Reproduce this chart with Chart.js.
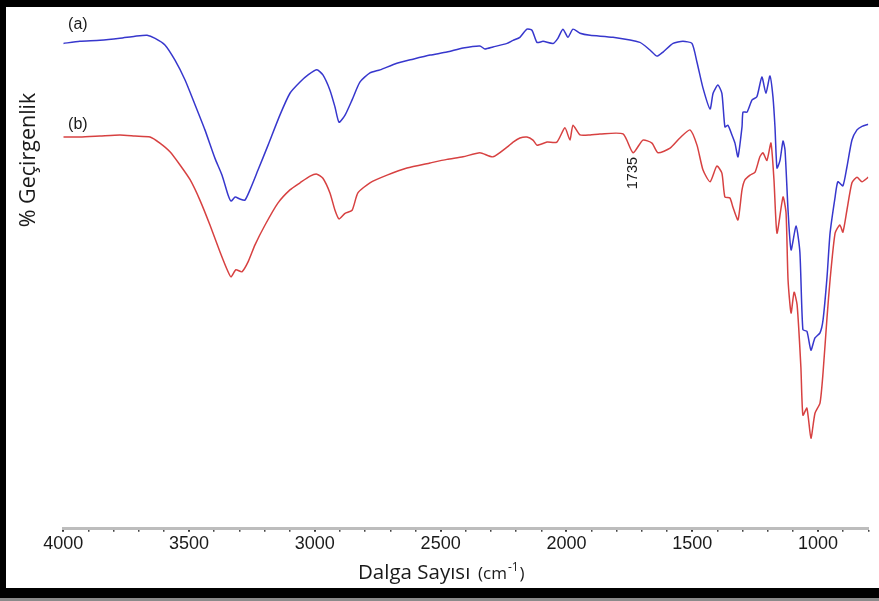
<!DOCTYPE html>
<html>
<head>
<meta charset="utf-8">
<script src="https://cdn.jsdelivr.net/npm/chart.js@4"></script>
<style>
  html, body { margin: 0; padding: 0; background: #fff; }
  #wrap { width: 879px; height: 601px; position: relative; }
</style>
</head>
<body>
<div id="wrap"><canvas id="c" width="879" height="601"></canvas></div>
<script>
// ---- Data (wavenumber in cm^-1, relative transmittance in %) ----
const waveA = [4000,3934,3854,3775,3715,3667,3635,3596,3556,3516,3476,3437,3397,3369,3345,3333,3317,3298,3278,3258,3226,3186,3139,3099,3059,3027,2992,2968,2940,2920,2904,2880,2852,2821,2781,2741,2674,2610,2542,2475,2411,2344,2324,2292,2236,2212,2185,2157,2137,2117,2093,2053,2034,2014,1994,1974,1946,1906,1815,1708,1668,1640,1616,1576,1537,1501,1481,1457,1429,1417,1398,1382,1370,1358,1342,1330,1318,1302,1298,1282,1262,1243,1223,1207,1191,1179,1171,1163,1151,1139,1131,1119,1107,1087,1072,1060,1044,1028,1012,992,980,964,952,932,921,901,885,865,845,825,800];
const transA = [95.4,95.8,96.0,96.4,96.8,97.0,96.4,95.1,92.1,88.2,83.3,78.4,72.8,69.5,65.6,64.4,65.2,64.8,64.6,66.6,70.5,75.4,81.3,85.6,87.8,89.2,90.2,89.2,86.2,82.9,79.9,81.3,84.3,87.8,89.6,90.2,91.5,92.3,93.1,93.7,94.5,94.9,94.3,94.7,95.4,96.0,96.6,98.2,98.0,95.6,95.8,95.4,96.4,98.2,96.6,98.2,97.4,97.0,96.6,95.6,94.1,92.9,93.7,95.4,95.8,95.4,91.7,86.6,82.5,85.6,87.2,85.6,79.0,79.3,77.4,75.8,73.1,79.0,81.9,81.9,84.3,84.9,88.8,85.6,89.0,84.9,79.0,70.9,72.4,76.2,74.4,62.6,54.8,59.5,54.4,39.1,38.8,35.1,37.5,38.5,41.0,49.5,58.1,65.2,68.2,67.4,71.1,76.4,78.4,79.1,79.5];

const waveB = [4000,3934,3854,3775,3715,3655,3616,3576,3536,3496,3457,3417,3377,3345,3333,3314,3290,3266,3238,3198,3147,3099,3059,3019,2992,2968,2940,2920,2904,2880,2852,2829,2781,2713,2634,2542,2475,2411,2344,2292,2236,2212,2185,2157,2133,2117,2077,2038,2006,1986,1974,1946,1906,1867,1775,1735,1696,1660,1636,1588,1549,1509,1481,1457,1429,1402,1382,1370,1350,1338,1318,1302,1290,1270,1250,1231,1219,1203,1187,1175,1163,1139,1127,1119,1107,1095,1083,1068,1060,1044,1028,1012,992,980,964,952,932,913,901,885,865,845,825,800];
const transB = [77.0,77.0,77.2,77.4,77.2,77.0,75.8,74.1,71.5,68.6,64.6,59.7,54.4,50.5,49.5,50.9,50.5,52.4,55.8,59.7,64.0,66.6,68.0,69.3,69.7,68.9,66.0,62.6,60.9,62.0,62.6,66.0,68.0,69.5,70.9,71.9,72.6,73.1,73.9,73.1,75.0,76.0,76.8,77.0,76.4,75.4,76.0,76.0,78.8,76.4,79.3,77.4,77.4,77.6,77.6,73.9,76.4,75.8,73.9,74.8,76.8,78.4,75.4,70.5,68.2,71.3,69.9,65.2,65.0,63.2,60.7,66.6,68.6,69.5,70.1,73.1,73.9,72.4,75.8,68.6,58.1,65.2,62.1,48.9,42.4,46.5,44.0,31.8,22.3,23.7,17.8,22.7,24.7,30.6,41.6,48.9,58.1,59.7,58.3,62.6,68.0,69.1,68.2,69.1];

const seriesLabels = ['(a)', '(b)'];
const majorTicks = [4000, 3500, 3000, 2500, 2000, 1500, 1000];
const annText = ['(a)', '(b)', '1735'];
const annWave = [3942, 3942, 1735];
const annTrans = [99.0, 79.4, 69.9];
const xTitle = 'Dalga Sayısı';
const xUnit = 'cm';
const xUnitSup = '-1';
const yTitle = '% Geçirgenlik';

const toPoints = (xs, ys) => xs.map((x, i) => ({ x: x, y: ys[i] }));

const frame = {
  id: 'frame',
  beforeDraw(chart) {
    const c = chart.ctx;
    c.save();
    c.fillStyle = '#fff';
    c.fillRect(0, 0, chart.width, chart.height);
    c.restore();
  },
  afterDraw(chart) {
    const c = chart.ctx;
    const xs = chart.scales.x, ys = chart.scales.y;
    c.save();
    // annotations
    c.fillStyle = '#1a1a1a';
    annText.forEach((t, i) => {
      const px = xs.getPixelForValue(annWave[i]);
      const py = ys.getPixelForValue(annTrans[i]);
      c.save();
      c.translate(px, py);
      if (t === '1735') { c.rotate(-Math.PI / 2); c.font = '14.5px "Liberation Sans", Arial, sans-serif'; }
      else { c.font = '16px "Liberation Sans", Arial, sans-serif'; }
      c.textAlign = 'center';
      c.textBaseline = 'middle';
      c.fillText(t, 0, 0);
      c.restore();
    });
    // y title
    c.save();
    c.translate(29, 160);
    c.rotate(-Math.PI / 2);
    c.font = '21.5px "Open Sans", sans-serif';
    c.textAlign = 'center';
    c.textBaseline = 'middle';
    c.fillText(yTitle, 0, 0);
    c.restore();
    // x title
    c.textBaseline = 'alphabetic';
    c.textAlign = 'left';
    let x = 358;
    const base = 579;
    c.font = '20.5px "Open Sans", sans-serif';
    c.fillText(xTitle, x, base);
    x = 478;
    c.font = '17px "Open Sans", sans-serif';
    c.fillText('(' + xUnit, x, base);
    x += c.measureText('(' + xUnit).width + 1;
    c.font = '12px "Open Sans", sans-serif';
    c.fillText(xUnitSup, x, base - 8);
    x += c.measureText(xUnitSup).width + 1;
    c.font = '17px "Open Sans", sans-serif';
    c.fillText(')', x, base);
    // frame
    c.fillStyle = '#000';
    c.fillRect(0, 0, chart.width, 7);
    c.fillRect(0, 0, 6, chart.height);
    c.fillRect(0, 588, chart.width, 10);
    c.fillStyle = '#8a8a8a';
    c.fillRect(0, 598, chart.width, 3);
    c.restore();
  }
};

new Chart(document.getElementById('c'), {
  type: 'line',
  data: {
    datasets: [
      { label: seriesLabels[0], data: toPoints(waveA, transA), borderColor: 'rgb(55,55,205)', borderWidth: 1.5, pointRadius: 0, tension: 0.2, fill: false },
      { label: seriesLabels[1], data: toPoints(waveB, transB), borderColor: 'rgb(215,65,65)', borderWidth: 1.5, pointRadius: 0, tension: 0.2, fill: false }
    ]
  },
  options: {
    responsive: false,
    animation: false,
    devicePixelRatio: 1,
    layout: { padding: { left: 63.3, right: 10.7, top: 20, bottom: 0 } },
    plugins: { legend: { display: false }, tooltip: { enabled: false } },
    scales: {
      x: {
        type: 'linear',
        reverse: true,
        min: 800,
        max: 4000,
        afterFit(scale) { scale.height = 72.3; },
        border: { display: true, color: '#bdbdbd', width: 3 },
        grid: {
          drawOnChartArea: false,
          drawTicks: true,
          tickLength: 3,
          color: (ctx) => (ctx.tick && majorTicks.includes(ctx.tick.value)) ? '#333' : '#444',
          lineWidth: (ctx) => (ctx.tick && majorTicks.includes(ctx.tick.value)) ? 2 : 1.5
        },
        ticks: {
          stepSize: 100,
          autoSkip: false,
          maxRotation: 0,
          padding: 2,
          color: '#1a1a1a',
          font: { family: '"Liberation Sans", Arial, sans-serif', size: 18 },
          callback: (v) => majorTicks.includes(v) ? String(v) : ''
        }
      },
      y: { display: false, min: 0, max: 100 }
    }
  },
  plugins: [frame]
});
</script>
</body>
</html>
